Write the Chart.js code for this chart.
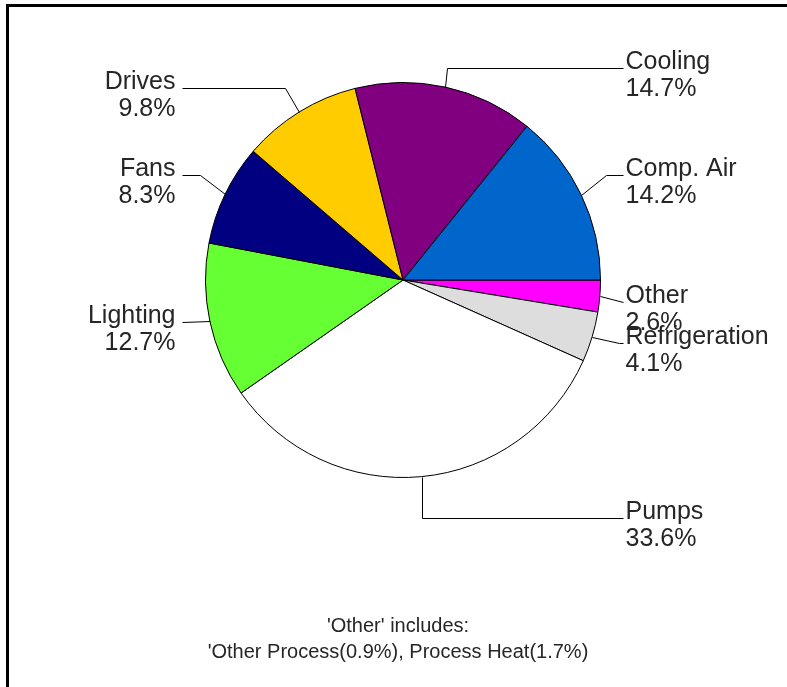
<!DOCTYPE html>
<html>
<head>
<meta charset="utf-8">
<script src="https://cdn.jsdelivr.net/npm/chart.js@4/dist/chart.umd.min.js"></script>
<style>
  html, body { margin: 0; padding: 0; background: #fff; width: 787px; height: 687px; overflow: hidden; }
  #frame { position: absolute; left: 6px; top: 4px; right: 0; bottom: -5px; border-top: 3px solid #000; border-left: 3px solid #000; }
  canvas { position: absolute; left: 0; top: 0; }
</style>
</head>
<body>
<div id="frame"></div>
<canvas id="c" width="787" height="687"></canvas>
<script>
// ---- data ----
const categories = ['Other', 'Refrigeration', 'Pumps', 'Lighting', 'Fans', 'Drives', 'Cooling', 'Comp. Air'];
const shares = [2.6, 4.1, 33.6, 12.7, 8.3, 9.8, 14.7, 14.2];
const noteLines = ["'Other' includes:", "'Other Process(0.9%), Process Heat(1.7%)"];

// ---- styles ----
const sliceColors = ['#FF00FF', '#DDDDDD', '#FFFFFF', '#66FF33', '#000080', '#FFCC00', '#800080', '#0066CC'];
const labelNudge = [4, -2, 14, -5, -7, 0, 8, -8]; // vertical label placement tweaks (px)
const FONT = '"Liberation Sans", Arial, sans-serif';

const leaderLabels = {
  id: 'leaderLabels',
  afterDatasetsDraw(chart) {
    const ctx = chart.ctx;
    const meta = chart.getDatasetMeta(0);
    const ds = chart.data.datasets[0];
    ctx.save();
    ctx.strokeStyle = '#000';
    ctx.lineWidth = 1;
    ctx.font = '25px ' + FONT;
    ctx.fillStyle = '#262626';
    ctx.textBaseline = 'alphabetic';
    meta.data.forEach((arc, i) => {
      const p = arc.getProps(['x', 'y', 'startAngle', 'endAngle', 'outerRadius'], true);
      const mid = (p.startAngle + p.endAngle) / 2;
      const c = Math.cos(mid), s = Math.sin(mid);
      const R = p.outerRadius;
      const ax = p.x + R * c, ay = p.y + R * s;
      let ex = p.x + (R + 28) * c, ey = p.y + (R + 28) * s + labelNudge[i];
      const right = c >= 0;
      const endX = right ? p.x + R + 22 : p.x - R - 24;
      if (right) ex = Math.min(ex, endX); else ex = Math.max(ex, endX);
      if (Math.abs(c) < 0.3) ex = ax + (ex - ax) * 0.25;
      ctx.beginPath();
      ctx.moveTo(Math.round(ax) + 0.5, Math.round(ay) + 0.5);
      ctx.lineTo(Math.round(ex) + 0.5, Math.round(ey) + 0.5);
      ctx.lineTo(Math.round(endX) + 0.5, Math.round(ey) + 0.5);
      ctx.stroke();
      const tx = right ? endX + 3 : endX - 6;
      ctx.textAlign = right ? 'left' : 'right';
      ctx.fillText(chart.data.labels[i], tx, ey + 1);
      ctx.fillText(ds.data[i].toFixed(1) + '%', tx, ey + 28);
    });
    // footnote
    ctx.font = '20px ' + FONT;
    ctx.textAlign = 'center';
    const cx = meta.data[0].x - 5;
    ctx.fillText(noteLines[0], cx, 632);
    ctx.fillText(noteLines[1], cx, 658);
    ctx.restore();
  }
};

new Chart(document.getElementById('c'), {
  type: 'pie',
  data: {
    labels: categories,
    datasets: [{
      data: shares,
      backgroundColor: sliceColors,
      borderColor: '#000',
      borderWidth: 1,
      hoverOffset: 0,
      borderAlign: 'center'
    }]
  },
  options: {
    responsive: false,
    animation: false,
    rotation: 90,
    layout: { padding: { left: 205, right: 186, top: 82, bottom: 209 } },
    plugins: {
      legend: { display: false },
      tooltip: { enabled: false },
      title: { display: false }
    },
    events: []
  },
  plugins: [leaderLabels]
});
</script>
</body>
</html>
